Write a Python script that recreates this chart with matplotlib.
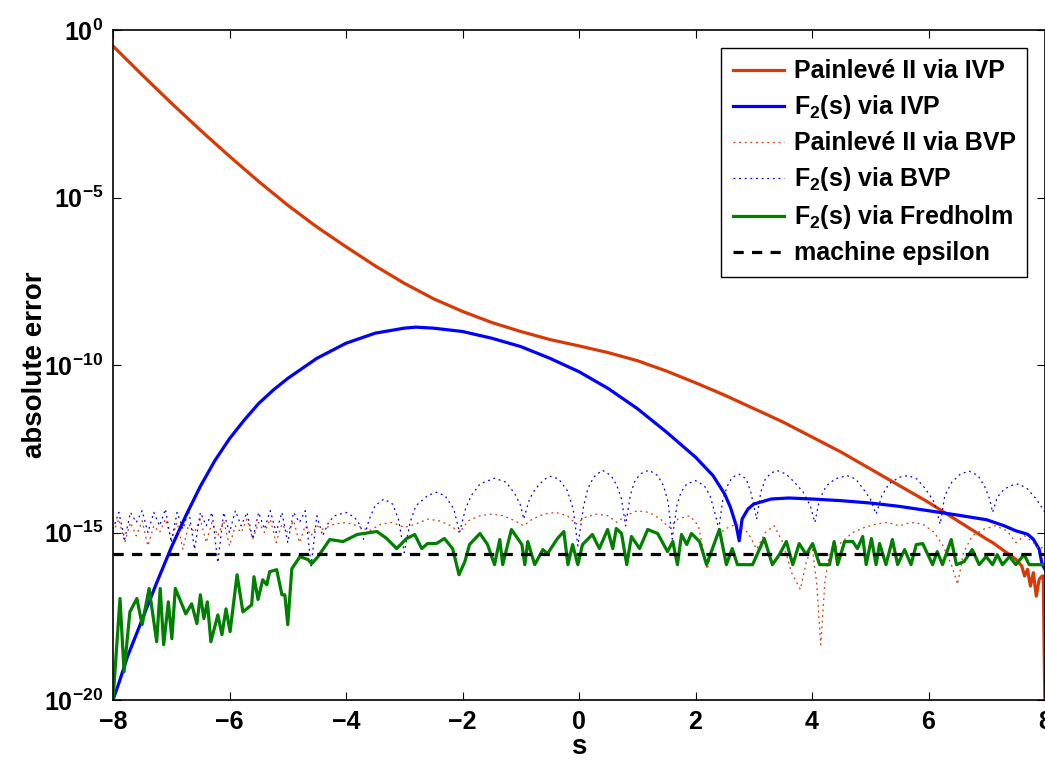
import numpy as np
import matplotlib
matplotlib.use("Agg")
import matplotlib.pyplot as plt

plt.rcParams['font.family'] = ['Liberation Sans', 'DejaVu Sans']
plt.rcParams['font.weight'] = 'bold'
plt.rcParams['mathtext.fontset'] = 'custom'
plt.rcParams['mathtext.rm'] = 'Liberation Sans:bold'
plt.rcParams['mathtext.it'] = 'Liberation Sans:bold'
plt.rcParams['mathtext.bf'] = 'Liberation Sans:bold'
plt.rcParams['mathtext.default'] = 'rm'

# values, as log10 of the absolute error
ivp_p2_s = [-8.0, -7.5, -7.0, -6.5, -6.0, -5.5, -5.0, -4.5, -4.0, -3.5, -3.0, -2.5, -2.0, -1.5,
            -1.0, -0.5, 0.0, 0.5, 1.0, 1.5, 2.0, 2.5, 3.0, 3.5, 4.0, 4.5, 5.0, 5.5, 6.0, 6.5,
            7.0, 7.1, 7.3, 7.5, 7.6, 7.65, 7.7, 7.75, 7.8, 7.85, 7.9, 7.95, 7.97, 8.0]
ivp_p2_log = [-0.48, -1.34, -2.18, -2.99, -3.77, -4.52, -5.23, -5.88, -6.47, -7.04, -7.56, -8.02, -8.4, -8.73,
              -9.0, -9.24, -9.43, -9.63, -9.87, -10.18, -10.53, -10.9, -11.3, -11.7, -12.15, -12.6, -13.1, -13.6, -14.1, -14.65,
              -15.2, -15.3, -15.55, -15.8, -16.0, -16.3, -16.1, -16.6, -16.2, -16.9, -16.4, -16.3, -16.3, -20.5]

ivp_f2_s = [-8.0, -7.9, -7.75, -7.5, -7.25, -7.0, -6.75, -6.5, -6.25, -6.0, -5.75, -5.5, -5.25, -5.0, -4.5, -4.0,
            -3.5, -3.0, -2.8, -2.5, -2.0, -1.5, -1.0, -0.5, 0.0, 0.5, 1.0, 1.5, 2.0, 2.3, 2.5, 2.6,
            2.7, 2.75, 2.8, 2.9, 3.0, 3.3, 3.6, 4.0, 4.5, 5.0, 5.5, 6.0, 6.5, 7.0, 7.3, 7.5, 7.7,
            7.8, 7.9, 7.95, 8.0]
ivp_f2_log = [-20.0, -19.5, -18.7, -17.6, -16.5, -15.45, -14.5, -13.62, -12.85, -12.2, -11.65, -11.15, -10.75, -10.4, -9.8, -9.35,
              -9.05, -8.9, -8.87, -8.9, -9.0, -9.2, -9.45, -9.8, -10.2, -10.7, -11.3, -12.0, -12.75, -13.3, -13.85, -14.25,
              -14.8, -15.25, -14.6, -14.3, -14.15, -14.0, -13.97, -14.0, -14.05, -14.12, -14.22, -14.35, -14.48, -14.62, -14.8, -14.95, -15.05,
              -15.2, -15.5, -15.95, -16.1]

bvp_p2_s = [-8.0, -7.9, -7.8, -7.7, -7.6, -7.5, -7.4, -7.3, -7.2, -7.1, -7.0, -6.9, -6.8, -6.7, -6.6, -6.5,
            -6.4, -6.3, -6.2, -6.1, -6.0, -5.9, -5.8, -5.7, -5.6, -5.5, -5.4, -5.3, -5.2, -5.1, -5.0, -4.9,
            -4.8, -4.7, -4.6, -4.5, -4.4, -4.2, -4.0, -3.8, -3.6, -3.4, -3.2, -3.0, -2.8, -2.6, -2.4, -2.2,
            -2.05, -1.9, -1.7, -1.5, -1.3, -1.1, -0.95, -0.8, -0.6, -0.4, -0.2, -0.05, 0.1, 0.3, 0.5, 0.65,
            0.8, 1.0, 1.2, 1.4, 1.55, 1.7, 1.9, 2.05, 2.2, 2.35, 2.5, 2.7, 2.9, 3.05, 3.2, 3.35, 3.5, 3.65,
            3.8, 3.9, 4.0, 4.08, 4.15, 4.22, 4.3, 4.5, 4.7, 4.9, 5.1, 5.3, 5.5, 5.7, 5.9, 6.1, 6.25, 6.4,
            6.5, 6.6, 6.75, 6.95, 7.15, 7.35, 7.5, 7.65, 7.8, 7.9, 8.0]
bvp_p2_log = [-15.0, -14.6, -15.3, -14.7, -15.1, -14.65, -15.4, -14.8, -15.0, -14.6, -15.2, -14.7, -15.5, -14.75, -15.0, -14.6,
              -15.3, -14.7, -15.1, -14.65, -15.4, -14.8, -15.0, -14.6, -15.2, -14.7, -15.0, -14.6, -15.3, -14.75, -15.0, -14.65,
              -15.3, -14.8, -15.1, -14.8, -14.9, -14.75, -14.7, -14.8, -14.95, -14.75, -14.7, -14.85, -14.75, -14.6, -14.65, -14.8,
              -15.0, -14.65, -14.5, -14.45, -14.5, -14.65, -14.8, -14.6, -14.45, -14.4, -14.5, -14.75, -14.55, -14.45, -14.5, -14.7,
              -14.5, -14.35, -14.4, -14.6, -14.85, -14.6, -14.5, -14.8, -16.1, -15.2, -14.9, -14.75, -15.0, -15.5, -15.0, -14.8, -15.3, -16.2,
              -16.7, -15.9, -15.4, -16.5, -18.35, -16.5, -15.6, -15.3, -15.0, -14.85, -14.75, -14.7, -14.8, -14.7, -14.75, -15.0, -15.4, -16.0,
              -16.55, -15.6, -15.1, -14.9, -14.8, -14.95, -15.3, -15.1, -15.3, -15.5, -15.4]

bvp_f2_s = [-8.0, -7.9, -7.8, -7.7, -7.6, -7.5, -7.4, -7.3, -7.2, -7.1, -7.0, -6.9, -6.8, -6.7, -6.6, -6.5,
            -6.4, -6.3, -6.2, -6.1, -6.0, -5.9, -5.8, -5.7, -5.6, -5.5, -5.4, -5.3, -5.2, -5.1, -5.0, -4.9,
            -4.8, -4.7, -4.6, -4.5, -4.4, -4.3, -4.2, -4.0, -3.85, -3.75, -3.7, -3.6, -3.5, -3.35, -3.2, -3.1,
            -3.0, -2.9, -2.8, -2.6, -2.45, -2.3, -2.15, -2.05, -1.95, -1.85, -1.7, -1.45, -1.25, -1.1, -1.0, -0.95,
            -0.85, -0.75, -0.6, -0.5, -0.35, -0.2, -0.1, -0.02, 0.08, 0.15, 0.25, 0.4, 0.55, 0.65, 0.73, 0.8,
            0.88, 0.95, 1.05, 1.2, 1.35, 1.45, 1.53, 1.6, 1.68, 1.75, 1.85, 2.0, 2.15, 2.25, 2.33, 2.4,
            2.47, 2.55, 2.63, 2.75, 2.87, 2.95, 3.05, 3.12, 3.2, 3.3, 3.4, 3.55, 3.7, 3.85, 3.97, 4.05,
            4.13, 4.25, 4.4, 4.6, 4.75, 4.88, 5.0, 5.1, 5.2, 5.32, 5.5, 5.65, 5.8, 5.95, 6.1, 6.2,
            6.28, 6.4, 6.55, 6.7, 6.85, 6.97, 7.05, 7.1, 7.18, 7.3, 7.45, 7.55, 7.7, 7.85, 8.0]
bvp_f2_log = [-14.9, -14.4, -15.2, -14.4, -14.7, -14.35, -15.0, -14.4, -14.8, -14.3, -15.3, -14.4, -14.9, -14.35, -15.5, -14.4,
              -14.8, -14.4, -15.9, -14.4, -15.0, -14.35, -14.8, -14.4, -15.2, -14.4, -14.9, -14.35, -15.0, -14.4, -15.3, -14.4,
              -14.7, -14.35, -16.0, -14.5, -15.1, -14.7, -14.5, -14.4, -14.55, -14.8, -15.2, -14.6, -14.2, -14.0, -14.15, -14.6,
              -15.6, -14.7, -14.2, -13.9, -13.8, -13.9, -14.3, -15.0, -14.3, -13.9, -13.55, -13.38, -13.5, -13.85, -14.2, -14.6,
              -14.0, -13.7, -13.42, -13.32, -13.4, -13.75, -14.3, -15.4, -14.2, -13.7, -13.35, -13.14, -13.3, -13.6, -14.0, -14.8,
              -13.9, -13.5, -13.25, -13.14, -13.3, -13.6, -14.1, -15.2, -14.2, -13.8, -13.55, -13.45, -13.6, -13.9, -14.4, -14.9,
              -14.0, -13.6, -13.35, -13.26, -13.4, -13.8, -14.6, -13.8, -13.4, -13.22, -13.15, -13.25, -13.5, -13.8, -14.2, -14.7,
              -14.0, -13.6, -13.4, -13.3, -13.4, -13.7, -14.0, -14.45, -13.9, -13.55, -13.35, -13.3, -13.4, -13.7, -14.1, -14.75,
              -13.9, -13.5, -13.25, -13.17, -13.3, -13.65, -14.0, -14.4, -13.95, -13.7, -13.58, -13.55, -13.7, -14.0, -14.4]

fred_s = [-8.0, -7.88, -7.81, -7.71, -7.59, -7.5, -7.38, -7.25, -7.19, -7.13, -7.05, -6.99, -6.93, -6.75, -6.65, -6.56,
          -6.5, -6.44, -6.38, -6.32, -6.2, -6.13, -6.06, -5.99, -5.87, -5.77, -5.62, -5.58, -5.51, -5.43, -5.36, -5.31,
          -5.19, -5.1, -5.05, -5.0, -4.93, -4.79, -4.65, -4.59, -4.48, -4.28, -4.05, -3.81, -3.47, -3.3, -3.13, -2.96,
          -2.82, -2.7, -2.6, -2.45, -2.31, -2.17, -2.06, -1.96, -1.88, -1.7, -1.57, -1.45, -1.36, -1.31, -1.16, -0.98,
          -0.93, -0.88, -0.76, -0.62, -0.54, -0.37, -0.26, -0.19, -0.11, -0.02, 0.06, 0.23, 0.35, 0.49, 0.58, 0.64,
          0.73, 0.82, 0.9, 1.04, 1.18, 1.35, 1.52, 1.61, 1.69, 1.76, 1.85, 1.93, 2.07, 2.19, 2.41, 2.53,
          2.63, 2.72, 2.98, 3.18, 3.32, 3.44, 3.56, 3.67, 3.78, 3.9, 4.01, 4.13, 4.3, 4.38, 4.44, 4.56,
          4.7, 4.78, 4.87, 4.93, 5.02, 5.1, 5.16, 5.27, 5.38, 5.47, 5.59, 5.7, 5.79, 5.9, 6.07, 6.15,
          6.24, 6.39, 6.48, 6.61, 6.75, 6.87, 6.99, 7.1, 7.18, 7.27, 7.39, 7.5, 7.64, 7.73, 8.0]
fred_log = [-20.0, -16.97, -19.16, -17.37, -16.97, -17.75, -16.67, -18.26, -16.67, -18.35, -17.07, -18.17, -16.67, -17.43, -17.13, -17.72,
            -16.86, -17.57, -17.07, -18.26, -17.46, -18.05, -17.28, -17.96, -16.26, -17.37, -17.16, -16.32, -17.0, -16.41, -16.56, -16.17,
            -16.11, -16.86, -16.86, -17.75, -16.08, -15.72, -15.81, -15.93, -15.72, -15.21, -15.27, -15.06, -14.97, -15.18, -15.48, -15.18,
            -15.06, -15.48, -15.33, -15.33, -15.18, -15.48, -16.26, -15.87, -15.36, -15.03, -15.36, -15.96, -15.21, -15.96, -14.91, -15.36,
            -15.96, -15.27, -15.96, -15.51, -15.63, -15.18, -14.97, -15.96, -15.36, -15.96, -15.36, -15.06, -15.48, -14.91, -15.48, -14.88,
            -15.03, -15.96, -15.12, -15.48, -14.91, -15.03, -15.57, -15.27, -15.96, -15.06, -15.36, -15.03, -15.27, -15.96, -14.91, -15.96,
            -15.48, -15.96, -15.96, -15.18, -15.96, -15.66, -15.27, -15.96, -15.33, -15.66, -15.33, -15.96, -15.96, -15.27, -15.96, -15.27,
            -15.27, -15.48, -15.12, -15.96, -15.18, -15.96, -15.33, -15.96, -15.21, -15.96, -15.51, -15.96, -15.36, -15.33, -15.96, -15.57,
            -15.96, -15.21, -15.96, -15.87, -15.51, -15.96, -15.72, -15.96, -15.66, -15.96, -15.72, -15.96, -15.66, -15.96, -15.96]

eps = 2.22e-16
y_exponents = [0, -5, -10, -15, -20]
x_ticks = [-8, -6, -4, -2, 0, 2, 4, 6, 8]

red = '#d93a05'
blue = '#0000ff'
green = '#007f00'

fig = plt.figure(figsize=(10.45, 7.6), dpi=100)
ax = fig.add_axes([113 / 1045, 1 - 700 / 760, 1 - 113 / 1045, 670 / 760])

ax.plot(ivp_p2_s, 10.0 ** np.array(ivp_p2_log), color=red, lw=2.3, label='Painlevé II via IVP')
ax.plot(ivp_f2_s, 10.0 ** np.array(ivp_f2_log), color=blue, lw=2.3, label=r'F$_2$(s) via IVP')
ax.plot(bvp_p2_s, 10.0 ** np.array(bvp_p2_log), color=red, lw=0.9, ls=(0, (1.5, 3)), label='Painlevé II via BVP')
ax.plot(bvp_f2_s, 10.0 ** np.array(bvp_f2_log), color=blue, lw=0.9, ls=(0, (1.5, 3)), label=r'F$_2$(s) via BVP')
ax.plot(fred_s, 10.0 ** np.array(fred_log), color=green, lw=2.3, label=r'F$_2$(s) via Fredholm')
ax.axhline(eps, color='black', lw=2.3, ls=(0, (3.2, 2.6)), label='machine epsilon')

ax.set_yscale('log')
ax.set_xlim(-8, 8)
ax.set_ylim(1e-20, 1e0)
ax.set_yticks([10.0 ** e for e in y_exponents])
ax.set_yticklabels([r'$10^{%d}$' % e for e in y_exponents])
ax.set_xticks(x_ticks)
ax.set_xticklabels(['\u2212%d' % -t if t < 0 else '%d' % t for t in x_ticks])
ax.minorticks_off()
ax.tick_params(direction='in', length=6, width=0.8, labelsize=18, top=True, right=True, pad=7)
for sp in ax.spines.values():
    sp.set_linewidth(1.2)

ax.set_xlabel('s', fontsize=20, fontweight='bold', labelpad=0)
ax.set_ylabel('absolute error', fontsize=20, fontweight='bold', labelpad=-3)

leg = ax.legend(loc='upper right', bbox_to_anchor=(1027 / 1045, 1 - 48 / 760),
                bbox_transform=fig.transFigure, borderaxespad=0, fontsize=18,
                handlelength=2.05, handletextpad=0.4, labelspacing=0.4,
                fancybox=False, framealpha=1, borderpad=0.45)
leg.get_frame().set_edgecolor('black')
leg.get_frame().set_linewidth(1.0)

fig.savefig('out.png', dpi=100)
